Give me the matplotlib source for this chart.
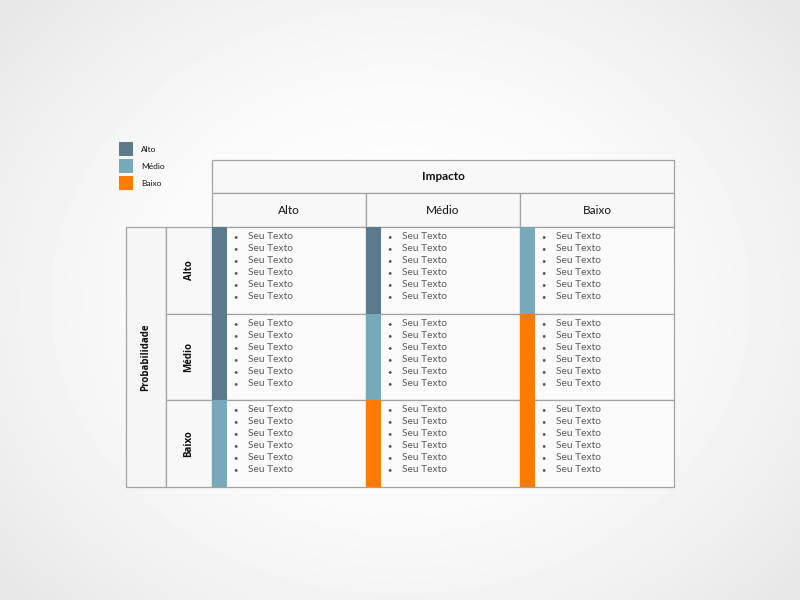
import numpy as np
import matplotlib
matplotlib.use('Agg')
import matplotlib.pyplot as plt
from matplotlib.patches import Rectangle

# dados da matriz de risco
niveis = ['Alto', 'Médio', 'Baixo']
cores_nivel = {'Alto': '#5b7b8d', 'Médio': '#78a9bb', 'Baixo': '#ff7a00'}
impacto = ['Alto', 'Médio', 'Baixo']
probabilidade = ['Alto', 'Médio', 'Baixo']
# nivel de cada celula: linhas = probabilidade, colunas = impacto
matriz = [['Alto', 'Alto', 'Médio'],
          ['Alto', 'Médio', 'Baixo'],
          ['Médio', 'Baixo', 'Baixo']]
itens = ['Seu Texto'] * 6

plt.rcParams['font.family'] = ['Lato', 'DejaVu Sans']

fig = plt.figure(figsize=(8, 6), dpi=100)
ax = fig.add_axes([0, 0, 1, 1])
ax.set_xlim(0, 800)
ax.set_ylim(600, 0)
ax.axis('off')

# fundo com gradiente radial
yy, xx = np.mgrid[0:600, 0:800]
r = np.sqrt(((xx - 400) / 560) ** 2 + ((yy - 300) / 470) ** 2)
fundo = 1 - 0.11 * r ** 2
ax.imshow(fundo, cmap='gray', vmin=0, vmax=1, extent=(0, 800, 600, 0), zorder=0)

borda = '#a3a3a3'
x0, col_w = 212, 154
y_imp, h_imp = 160, 33
y_col, h_col = 193, 34
y0, row_h = 227, 86.7
faixa = 15

def caixa(x, y, w, h, fc='#fafafa'):
    ax.add_patch(Rectangle((x, y), w, h, facecolor=fc, edgecolor=borda, lw=0.9, zorder=1))

# cabecalho Impacto
caixa(x0, y_imp, col_w * 3, h_imp, '#f8f8f8')
ax.text(x0 + col_w * 1.5, y_imp + h_imp / 2, 'Impacto', ha='center', va='center',
        fontsize=8.5, fontweight='bold', color='#111111', zorder=3)
for j, nome in enumerate(impacto):
    caixa(x0 + j * col_w, y_col, col_w, h_col, '#f8f8f8')
    ax.text(x0 + j * col_w + col_w / 2, y_col + h_col / 2, nome, ha='center', va='center',
            fontsize=8.5, color='#111111', zorder=3)

# coluna Probabilidade
caixa(126, y0, 40, row_h * 3, '#f6f6f6')
ax.text(146, y0 + row_h * 1.5, 'Probabilidade', rotation=90, ha='center', va='center',
        fontsize=7, fontweight='bold', family=['Open Sans', 'DejaVu Sans'], color='#111111', zorder=3)
for i, nome in enumerate(probabilidade):
    caixa(166, y0 + i * row_h, 46, row_h, '#f8f8f8')
    ax.text(189, y0 + i * row_h + row_h / 2, nome, rotation=90, ha='center', va='center',
            fontsize=7, fontweight='bold', family=['Open Sans', 'DejaVu Sans'], color='#111111', zorder=3)

# celulas
for i in range(3):
    for j in range(3):
        cx = x0 + j * col_w
        cy = y0 + i * row_h
        caixa(cx, cy, col_w, row_h, '#fbfbfb')
        ax.add_patch(Rectangle((cx, cy), faixa, row_h, facecolor=cores_nivel[matriz[i][j]],
                               edgecolor='none', zorder=2))
        for k, t in enumerate(itens):
            ty = cy + 9.5 + k * 12
            ax.text(cx + 21, ty, '•', ha='left', va='center', fontsize=5.5, color='#555555', zorder=3)
            ax.text(cx + 36, ty, t, ha='left', va='center', fontsize=7.4, color='#5a5a5a', zorder=3)

# legenda
for k, nome in enumerate(niveis):
    ly = 142 + k * 17
    ax.add_patch(Rectangle((119, ly), 14, 14, facecolor=cores_nivel[nome], edgecolor='none', zorder=2))
    ax.text(141, ly + 7.5, nome, ha='left', va='center', fontsize=6, color='#111111', zorder=3)

fig.savefig('out.png', dpi=100)
